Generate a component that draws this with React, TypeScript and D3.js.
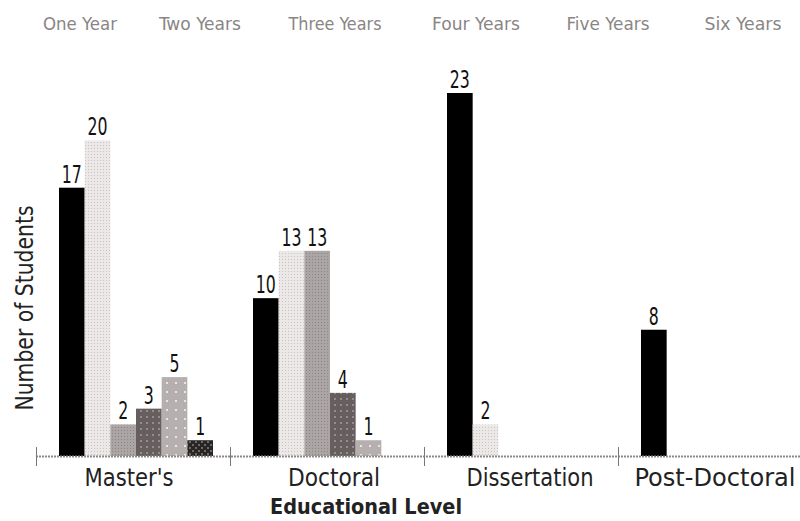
import React from "react";
import * as d3 from "d3";

const categories = ["Master's", "Doctoral", "Dissertation", "Post-Doctoral"];
const seriesNames = ["One Year", "Two Years", "Three Years", "Four Years", "Five Years", "Six Years"];
const oneYear = [17, 10, 23, 8];
const twoYears = [20, 13, 2, 0];
const threeYears = [2, 13, 0, 0];
const fourYears = [3, 4, 0, 0];
const fiveYears = [5, 1, 0, 0];
const sixYears = [1, 0, 0, 0];
const seriesValues = [oneYear, twoYears, threeYears, fourYears, fiveYears, sixYears];
const legendWidths = [74, 82, 93, 88, 83, 77];
const legendCenters = [80, 200, 335, 476, 608, 743];
const catLabelWidths = [89, 92, 127, 161];
const catLabelCenters = [129, 334, 530, 715];

const W = 800;
const H = 521;
const FONT = "'Liberation Sans Narrow', 'DejaVu Sans Condensed', 'Liberation Sans', sans-serif";

export default function App() {
  const x0 = d3.scaleBand<string>().domain(categories).range([36, 36 + 194 * 4]).padding(0);
  const x1 = d3.scaleBand<string>().domain(seriesNames).range([23, 23 + 154]).padding(0);
  const y = d3.scaleLinear().domain([0, 23]).range([456, 93]);
  const fills = ["#000", "url(#p2)", "url(#p3)", "url(#p4)", "url(#p5)", "url(#p6)"];

  return (
    <svg width={W} height={H} style={{ position: "absolute", left: 0, top: 0, background: "#fff" }}>
      <defs>
        <pattern id="p2" width="3" height="3" patternUnits="userSpaceOnUse">
          <rect width="3" height="3" fill="#ece8e8" />
          <rect x="1" y="1" width="1" height="1" fill="#c9c3c3" />
        </pattern>
        <pattern id="p3" width="3" height="3" patternUnits="userSpaceOnUse">
          <rect width="3" height="3" fill="#aca5a5" />
          <rect x="1" y="1" width="1" height="1" fill="#8d8585" />
        </pattern>
        <pattern id="p4" width="6" height="6" patternUnits="userSpaceOnUse">
          <rect width="6" height="6" fill="#675f5f" />
          <rect x="2" y="2" width="2" height="2" fill="#958d8d" />
        </pattern>
        <pattern id="p5" width="9" height="9" patternUnits="userSpaceOnUse">
          <rect width="9" height="9" fill="#b6afaf" />
          <rect x="4" y="4" width="2" height="2" fill="#e8e4e4" />
        </pattern>
        <pattern id="p6" width="6" height="6" patternUnits="userSpaceOnUse">
          <rect width="6" height="6" fill="#2a2525" />
          <rect x="0" y="0" width="2" height="2" fill="#6e6868" />
          <rect x="3" y="3" width="2" height="2" fill="#6e6868" />
        </pattern>
      </defs>

      {seriesNames.map((s, i) => (
        <text key={s} x={legendCenters[i]} y={30} textAnchor="middle" fontFamily={FONT} fontSize={17}
          fill="#8a8585" textLength={legendWidths[i]} lengthAdjust="spacingAndGlyphs">{s}</text>
      ))}

      {categories.map((c, ci) => (
        <g key={c} transform={`translate(${x0(c)},0)`}>
          {seriesNames.map((s, si) => {
            const v = seriesValues[si][ci];
            if (!v) return null;
            const bx = x1(s)!;
            const bw = x1.bandwidth();
            const label = String(v);
            return (
              <g key={s}>
                <rect x={bx} y={y(v)} width={bw} height={y(0) - y(v)} fill={fills[si]} />
                <text x={bx + bw / 2} y={y(v) - 5} textAnchor="middle" fontFamily={FONT} fontSize={24}
                  fill="#111" textLength={label.length * 10} lengthAdjust="spacingAndGlyphs">{label}</text>
              </g>
            );
          })}
        </g>
      ))}

      <line x1={36} x2={W} y1={456.5} y2={456.5} stroke="#8c8888" strokeWidth={2} strokeDasharray="2 1" />
      {categories.map((c) => (
        <line key={c} x1={x0(c)! + 0.5} x2={x0(c)! + 0.5} y1={447} y2={466} stroke="#777" strokeWidth={1} />
      ))}

      {categories.map((c, i) => (
        <text key={c} x={catLabelCenters[i]} y={486} textAnchor="middle" fontFamily={FONT} fontSize={24}
          fill="#222" textLength={catLabelWidths[i]} lengthAdjust="spacingAndGlyphs">{c}</text>
      ))}

      <text x={366} y={514} textAnchor="middle" fontFamily={FONT} fontSize={22} fontWeight="bold"
        fill="#222" textLength={192} lengthAdjust="spacingAndGlyphs">Educational Level</text>

      <text transform="translate(33,308) rotate(-90)" textAnchor="middle" fontFamily={FONT} fontSize={24}
        fill="#222" textLength={205} lengthAdjust="spacingAndGlyphs">Number of Students</text>
    </svg>
  );
}
